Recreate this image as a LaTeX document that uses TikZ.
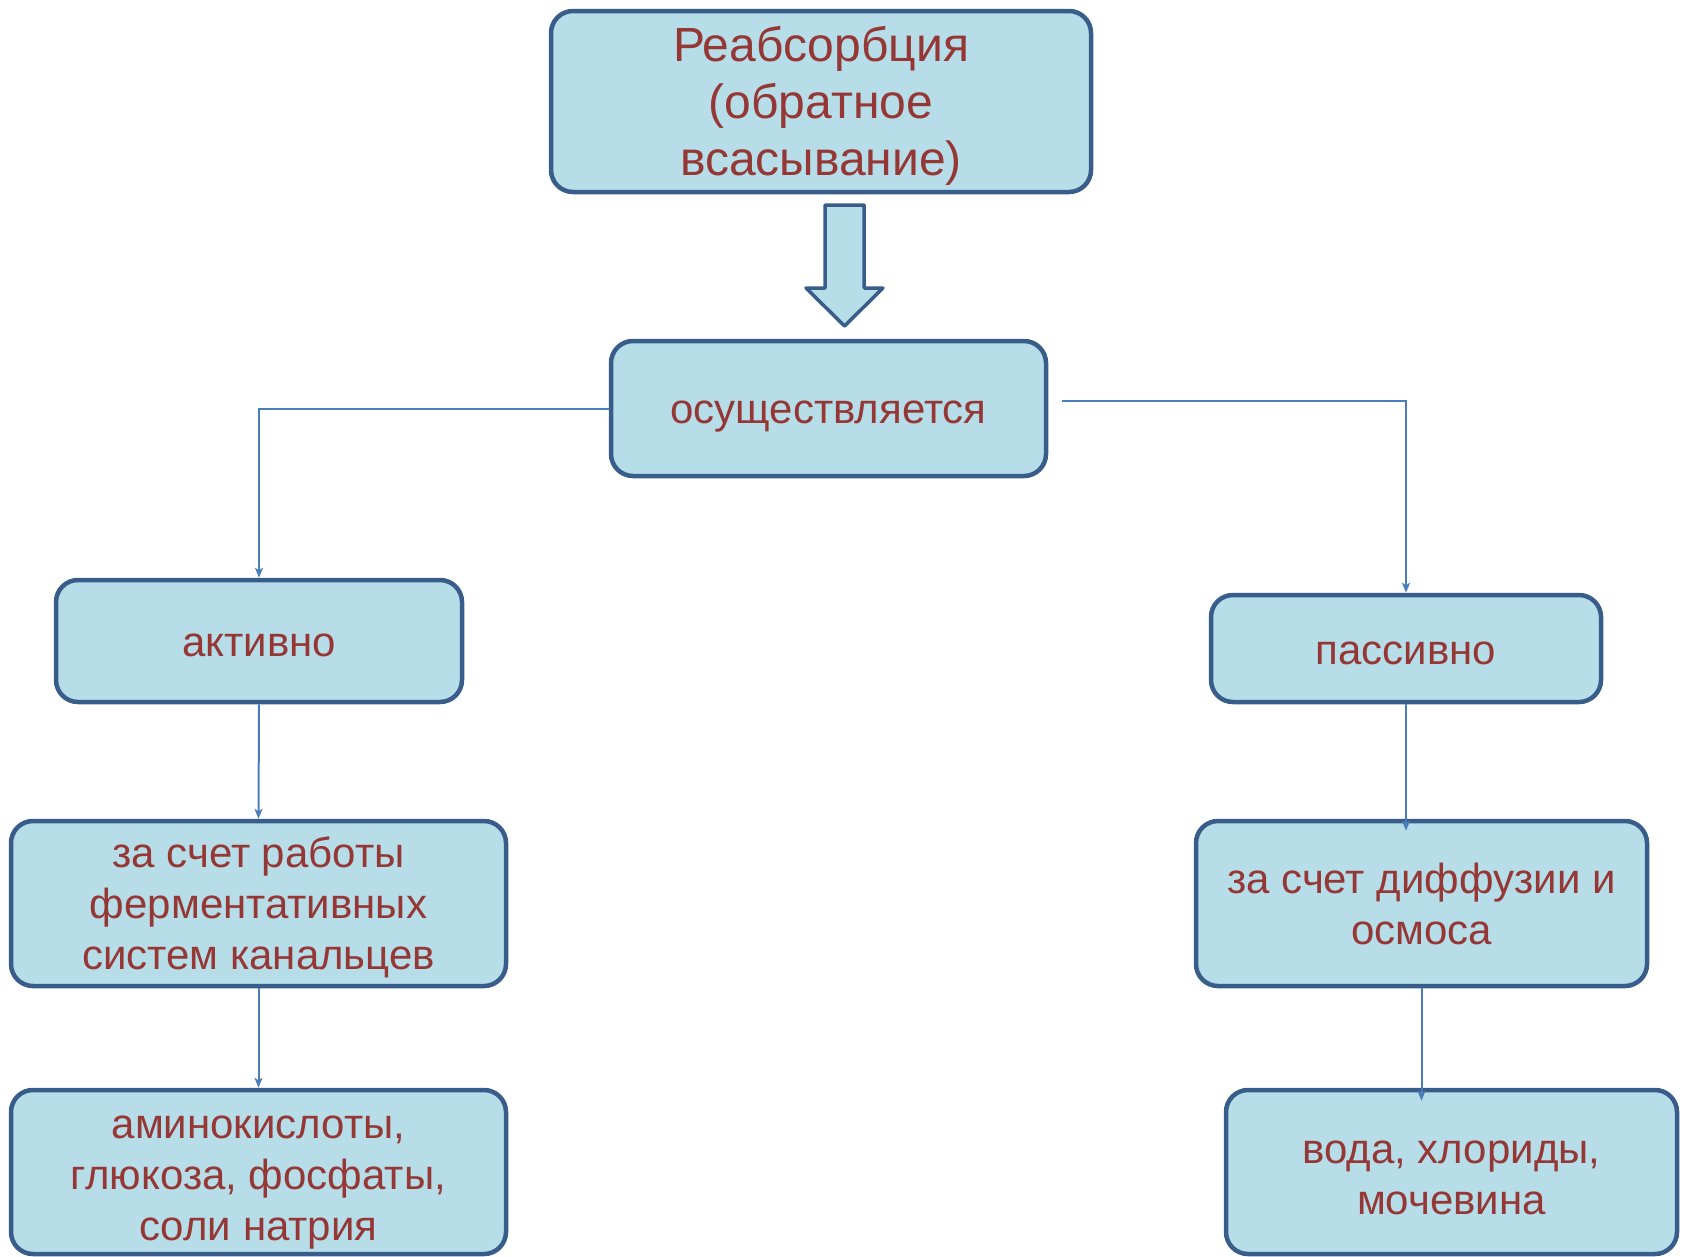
\documentclass[tikz,border=0pt]{standalone}
\usepackage{fontspec}
\setmainfont{Liberation Sans}
\usetikzlibrary{arrows.meta,calc}
\definecolor{boxfill}{HTML}{B7DDE8}
\definecolor{boxline}{HTML}{385D8A}
\definecolor{txtred}{HTML}{953735}
\definecolor{conn}{HTML}{4A7EBB}
\begin{document}
\begin{tikzpicture}[x=1pt,y=-1pt,
  blk/.style={draw=boxline,fill=boxfill,line width=4.5pt,rounded corners=22pt,inner sep=0pt},
  lbl/.style={text=txtred,align=center,inner sep=0pt,font=\fontsize{42}{51}\selectfont},
  link/.style={draw=conn,line width=2pt,-{Stealth[length=10pt,width=8pt,inset=2.5pt]}}]
\useasboundingbox (0,0) rectangle (1691,1256);
% boxes
\node[blk,minimum width=540pt,minimum height=181pt,
  label={[lbl,yshift=-4pt,font=\fontsize{48}{57}\selectfont]center:Реабсорбция\\(обратное\\всасывание)}] (top) at (821,101.5) {};
\node[blk,minimum width=435pt,minimum height=135pt,
  label={[lbl,yshift=-8pt]center:осуществляется}] (mid) at (828.5,408.5) {};
\node[blk,minimum width=406pt,minimum height=122pt,
  label={[lbl,yshift=-4pt]center:активно}] (act) at (259,641) {};
\node[blk,minimum width=390pt,minimum height=107pt,
  label={[lbl,yshift=-5pt]center:пассивно}] (pas) at (1406,648.5) {};
\node[blk,minimum width=495pt,minimum height=165pt,
  label={[lbl,yshift=-4pt]center:за счет работы\\ферментативных\\систем канальцев}] (l2) at (258.5,903.5) {};
\node[blk,minimum width=495pt,minimum height=164pt,
  label={[lbl,yshift=-11pt]center:аминокислоты,\\глюкоза, фосфаты,\\соли натрия}] (l3) at (258.5,1172) {};
\node[blk,minimum width=451pt,minimum height=165pt,
  label={[lbl,yshift=0pt]center:за счет диффузии и\\осмоса}] (r2) at (1421.5,903.5) {};
\node[blk,minimum width=451pt,minimum height=164pt,
  label={[lbl,yshift=-6pt]center:вода, хлориды,\\мочевина}] (r3) at (1451.5,1172) {};
% block arrow
\draw[draw=boxline,fill=boxfill,line width=3.5pt,line join=round]
  (825,205) -- (864,205) -- (864,288) -- (883,288) -- (844.5,326) -- (806,288) -- (825,288) -- cycle;
% connectors
\coordinate (rs) at (1062,401);
\draw[link] (mid.west) -| (act.north);
\draw[link] (rs) -| (pas.north);
\draw[link] (act.south) -- (l2.north);
\draw[link] (l2.south) -- (l3.north);
\draw[link] (pas.south) -- ([yshift=-12pt]pas.south |- r2.north);
\draw[link] (r2.south) -- ([yshift=-13pt]r2.south |- r3.north);
\end{tikzpicture}
\end{document}
